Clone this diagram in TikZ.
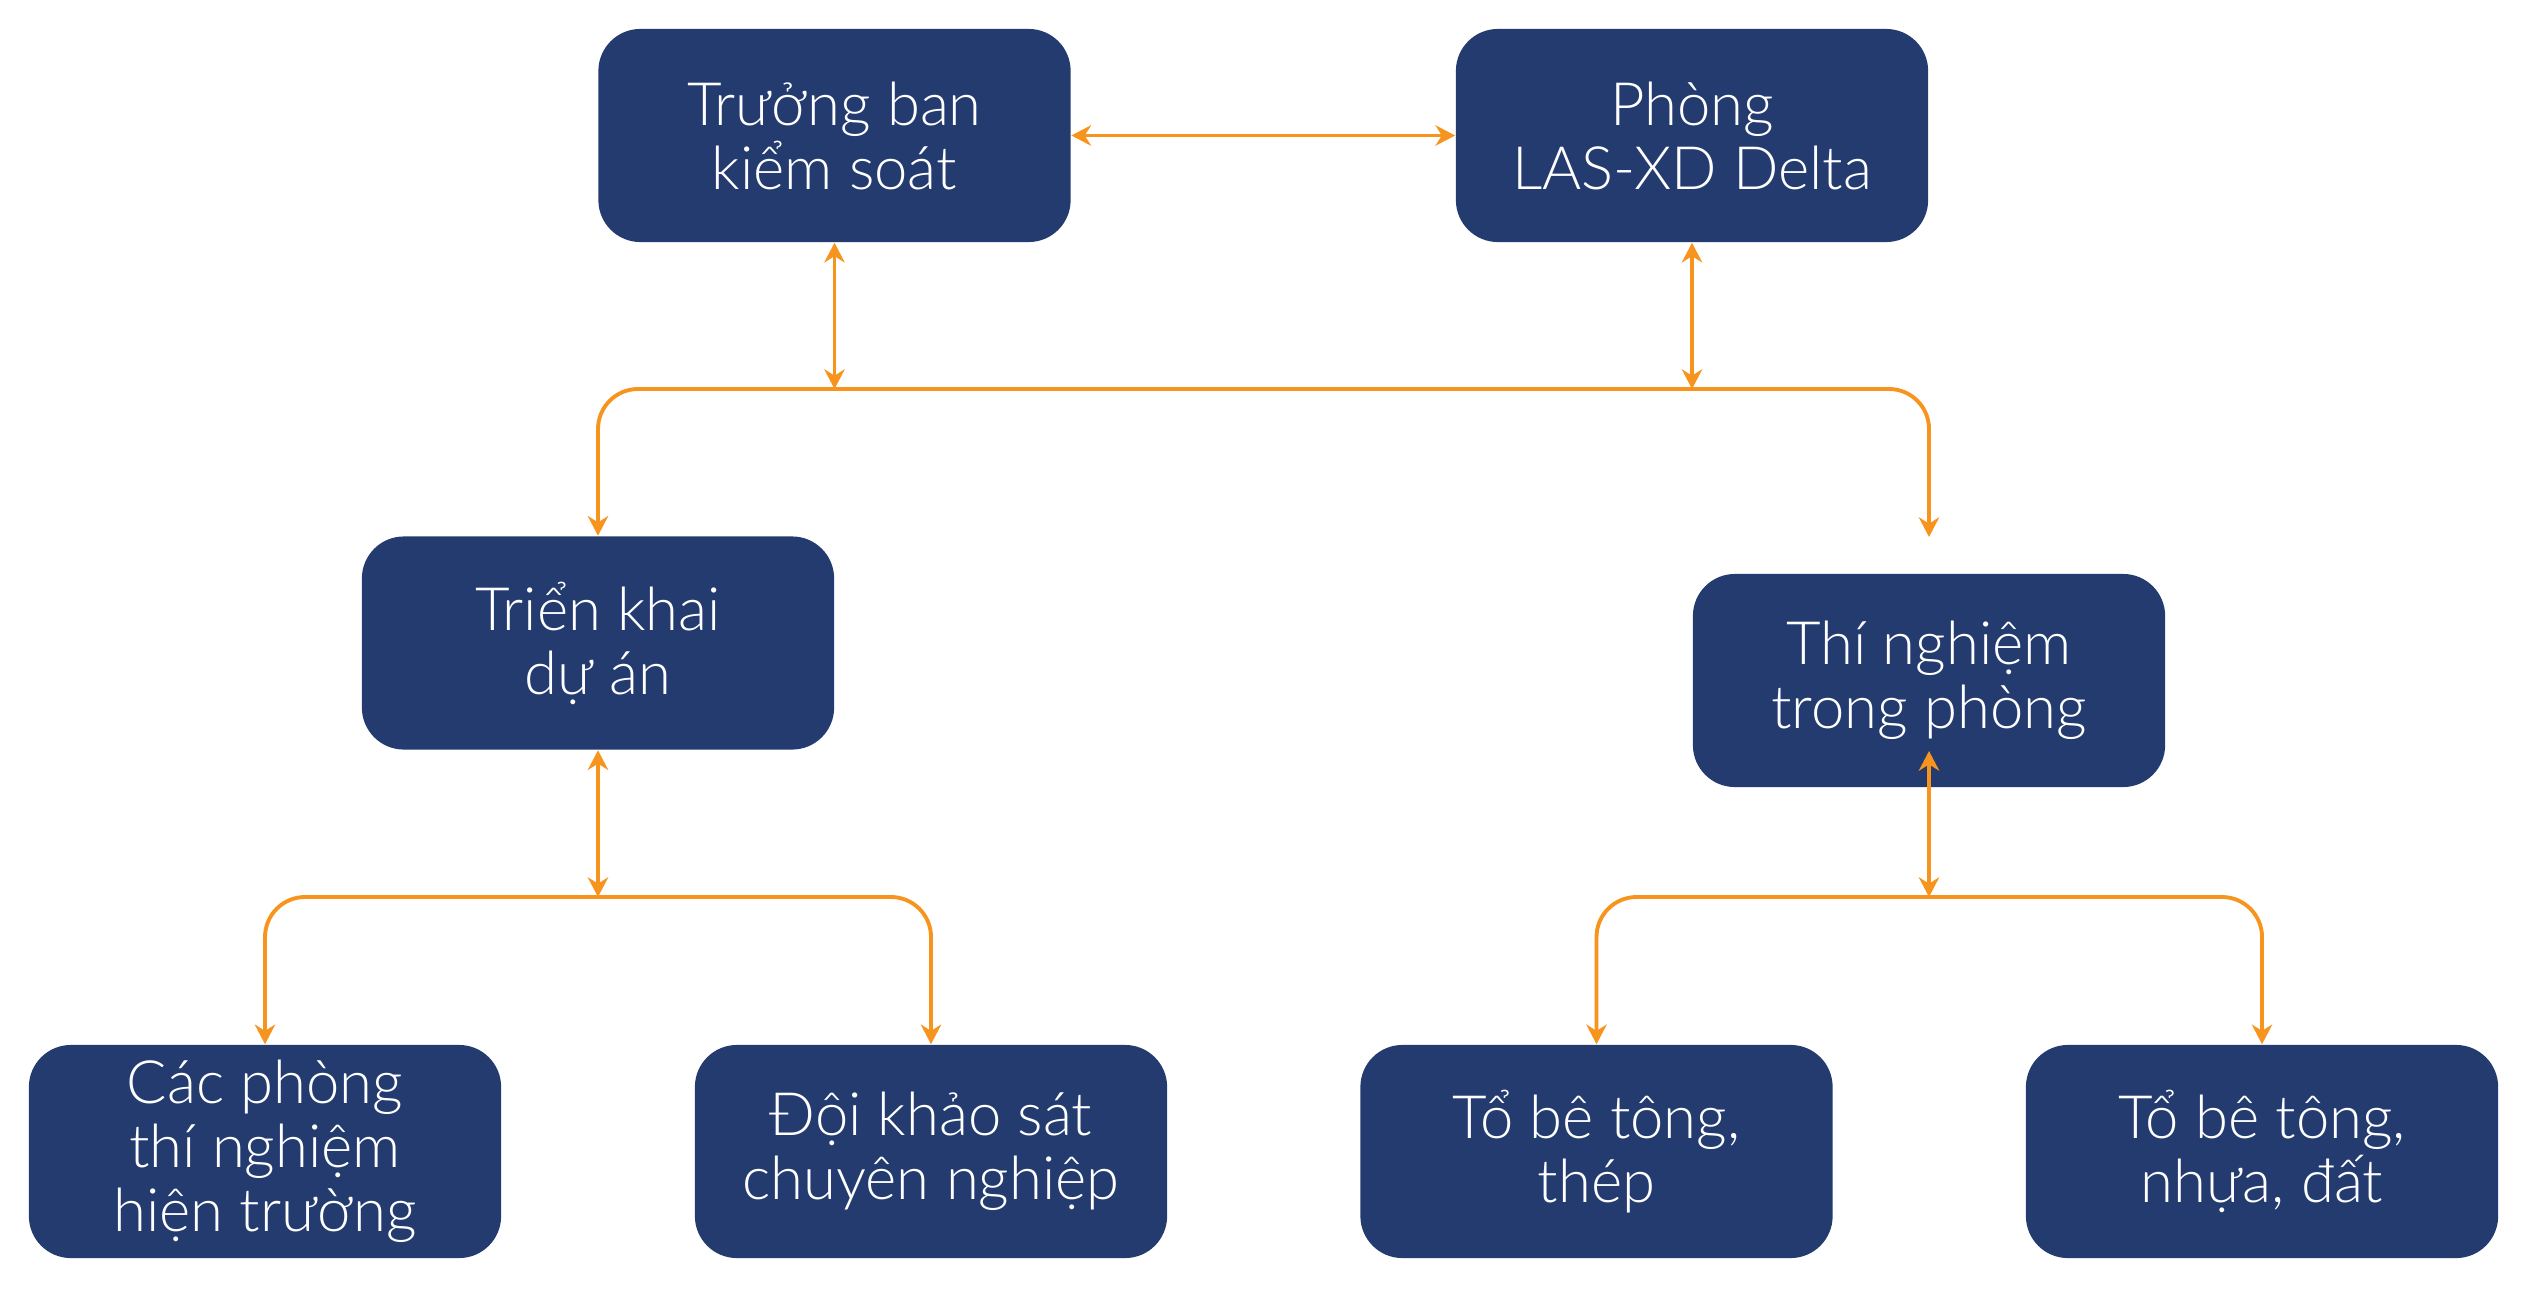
\documentclass[tikz,border=0pt]{standalone}
\usepackage{fontspec}
\setmainfont{Lato Light}
\usetikzlibrary{arrows.meta}
\definecolor{boxblue}{HTML}{243B70}
\definecolor{lineor}{HTML}{F7941D}
\begin{document}
\begin{tikzpicture}[x=0.01cm,y=-0.01cm,
  box/.style={fill=boxblue, rounded corners=0.42cm, minimum width=4.72cm, minimum height=2.13cm,
    text=white, align=center, font=\fontsize{17}{18.2}\selectfont, inner sep=0pt},
  tip/.tip={Stealth[length=5.6pt,width=5.8pt,inset=1.8pt]},
  link/.style={draw=lineor, line width=1.1pt, tip-tip},
  bus/.style={link, rounded corners=0.4cm}
]
\useasboundingbox (0,0) rectangle (2528,1288);
\node[box] (tb) at (834.5,135.5) {Trưởng ban\\kiểm soát};
\node[box] (ph) at (1692,135.5) {Phòng\\LAS-XD Delta};
\node[box] (tk) at (598,643) {Triển khai\\dự án};
\node[box] (tn) at (1929,680.5) {Thí nghiệm\\trong phòng};
\node[box] (cp) at (265,1151.5) {Các phòng\\thí nghiệm\\hiện trường};
\node[box] (dk) at (931,1151.5) {Đội khảo sát\\chuyên nghiệp};
\node[box] (t1) at (1596.5,1151.5) {Tổ bê tông,\\thép};
\node[box] (t2) at (2262,1151.5) {Tổ bê tông,\\nhựa, đất};
\coordinate (b1) at (834.5,389);
\coordinate (b2) at (1692,389);
\coordinate (tnin) at (1929,537);
\coordinate (b3) at (598,897);
\coordinate (b4) at (1929,897);
\coordinate (tnin2) at (1929,751);
\draw[link] (tb.east) -- (ph.west);
\draw[link] (tb.south) -- (b1);
\draw[link] (ph.south) -- (b2);
\draw[bus] (tk.north) |- (b1) -- (b2) -| (tnin);
\draw[link] (tk.south) -- (b3);
\draw[bus] (cp.north) |- (b3) -| (dk.north);
\draw[link] (b4) -- (tnin2);
\draw[bus] (t1.north) |- (b4) -| (t2.north);
\end{tikzpicture}
\end{document}
